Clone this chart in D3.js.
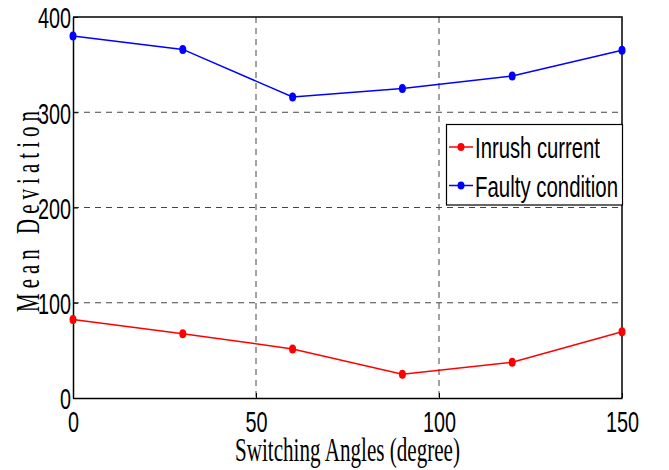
<!DOCTYPE html>
<html>
<head>
<meta charset="utf-8">
<script src="https://cdn.jsdelivr.net/npm/d3@7"></script>
<style>
  body { margin: 0; background: #fff; }
  svg { display: block; }
</style>
</head>
<body>
<div id="chart"></div>
<script>
// data
const angles = [0, 30, 60, 90, 120, 150];
const inrushCurrent = [82.5, 67.5, 51.5, 25, 37.5, 69.5];
const faultyCondition = [380, 366, 316, 325, 338, 365];
const xTicks = [0, 50, 100, 150];
const yTicks = [0, 100, 200, 300, 400];
const seriesNames = ["Inrush current", "Faulty condition"];
const seriesColors = ["#ff0000", "#0000ff"];

const width = 669, height = 470;
const plotLeft = 73, plotRight = 622, plotTop = 17, plotBottom = 398;
const squeeze = 0.66;   // fonts in the picture are narrow

const svg = d3.select("#chart").append("svg")
    .attr("width", width)
    .attr("height", height);

const x = d3.scaleLinear().domain([0, 150]).range([plotLeft, plotRight]);
const y = d3.scaleLinear().domain([0, 400]).range([plotBottom, plotTop]);

// dashed grid
svg.append("g")
    .selectAll("line")
    .data(xTicks.filter(d => d > 0 && d < 150))
    .join("line")
    .attr("x1", d => x(d)).attr("x2", d => x(d))
    .attr("y1", plotTop).attr("y2", plotBottom)
    .attr("stroke", "#444")
    .attr("stroke-width", 1)
    .attr("stroke-dasharray", "6,5");

svg.append("g")
    .selectAll("line")
    .data(yTicks.filter(d => d > 0 && d < 400))
    .join("line")
    .attr("x1", plotLeft).attr("x2", plotRight)
    .attr("y1", d => y(d)).attr("y2", d => y(d))
    .attr("stroke", "#444")
    .attr("stroke-width", 1)
    .attr("stroke-dasharray", "6,5");

// axes
const xAxis = svg.append("g")
    .attr("transform", `translate(0,${plotBottom})`)
    .call(d3.axisBottom(x).tickValues(xTicks).tickSizeInner(-5).tickSizeOuter(0).tickFormat(d3.format("d")));

const yAxis = svg.append("g")
    .attr("transform", `translate(${plotLeft},0)`)
    .call(d3.axisLeft(y).tickValues(yTicks).tickSizeInner(-5).tickSizeOuter(0).tickFormat(d3.format("d")));

[xAxis, yAxis].forEach(a => {
    a.select(".domain").attr("stroke", "#000").attr("stroke-width", 1.5);
    a.selectAll(".tick line").attr("stroke", "#000");
    a.selectAll(".tick text")
        .attr("fill", "#000")
        .style("font-family", "Liberation Sans, Arial, sans-serif")
        .style("font-size", "30px");
});

xAxis.selectAll(".tick text")
    .attr("y", 34)
    .attr("dy", 0)
    .attr("transform", `scale(${squeeze},1)`);

yAxis.selectAll(".tick text")
    .attr("x", -3)
    .attr("dy", "0.36em")
    .attr("transform", `scale(${squeeze},1)`);

// top and right frame
svg.append("path")
    .attr("d", `M${plotLeft},${plotTop}H${plotRight}V${plotBottom}`)
    .attr("fill", "none")
    .attr("stroke", "#000")
    .attr("stroke-width", 1.5);

// series
const series = [inrushCurrent, faultyCondition];
const line = d3.line()
    .x((d, i) => x(angles[i]))
    .y(d => y(d));

series.forEach((vals, k) => {
    svg.append("path")
        .datum(vals)
        .attr("d", line)
        .attr("fill", "none")
        .attr("stroke", seriesColors[k])
        .attr("stroke-width", 1.5);

    svg.append("g")
        .selectAll("ellipse")
        .data(vals)
        .join("ellipse")
        .attr("cx", (d, i) => x(angles[i]))
        .attr("cy", d => y(d))
        .attr("rx", 3.5)
        .attr("ry", 4.5)
        .attr("fill", seriesColors[k]);
});

// legend
const legend = svg.append("g");
legend.append("rect")
    .attr("x", 446.5).attr("y", 124.5)
    .attr("width", 176).attr("height", 80.5)
    .attr("fill", "#fff")
    .attr("stroke", "#000")
    .attr("stroke-width", 1.2);

const legendRows = [147, 185.5];
const legendLen = [125, 143];
seriesNames.forEach((name, k) => {
    const ly = legendRows[k];
    legend.append("line")
        .attr("x1", 449).attr("x2", 473)
        .attr("y1", ly).attr("y2", ly)
        .attr("stroke", seriesColors[k])
        .attr("stroke-width", 1.5);
    legend.append("ellipse")
        .attr("cx", 461).attr("cy", ly)
        .attr("rx", 3.5).attr("ry", 4)
        .attr("fill", seriesColors[k]);
    legend.append("text")
        .attr("x", 475)
        .attr("y", ly + 11)
        .attr("textLength", legendLen[k])
        .attr("lengthAdjust", "spacingAndGlyphs")
        .style("font-family", "Liberation Sans, Arial, sans-serif")
        .style("font-size", "30px")
        .text(name);
});

// axis titles
svg.append("text")
    .attr("x", 347.5)
    .attr("y", 461)
    .attr("text-anchor", "middle")
    .attr("textLength", 225)
    .attr("lengthAdjust", "spacingAndGlyphs")
    .style("font-family", "Liberation Serif, Times New Roman, serif")
    .style("font-size", "33px")
    .text("Switching Angles (degree)");

svg.append("text")
    .attr("transform", "translate(39,209) rotate(-90)")
    .attr("text-anchor", "middle")
    .attr("textLength", 206)
    .attr("lengthAdjust", "spacingAndGlyphs")
    .style("font-family", "Liberation Serif, Times New Roman, serif")
    .style("font-size", "33px")
    .style("letter-spacing", "8px")
    .text("Mean Deviation");
</script>
</body>
</html>
